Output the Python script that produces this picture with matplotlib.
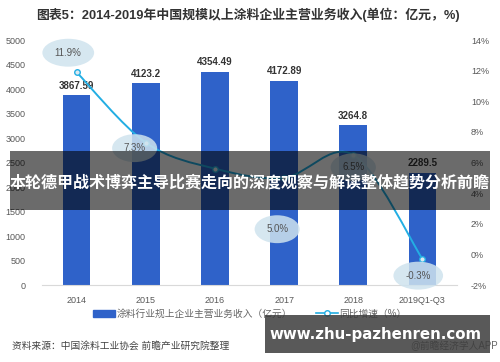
import matplotlib
matplotlib.use('Agg')
import matplotlib.pyplot as plt
import numpy as np
from matplotlib.path import Path
from matplotlib.patches import PathPatch, Rectangle, Patch
from matplotlib.lines import Line2D

plt.rcParams['font.family'] = ['Liberation Sans', 'Noto Sans CJK SC', 'DejaVu Sans']

# data
years = ['2014', '2015', '2016', '2017', '2018', '2019Q1-Q3']
revenue = [3867.59, 4123.2, 4354.49, 4172.89, 3264.8, 2289.5]
growth = [11.9, 7.3, 5.6, 5.0, 6.5, -0.3]
growth_labels = ['11.9%', '7.3%', '', '5.0%', '6.5%', '-0.3%']
rev_ticks = [0, 500, 1000, 1500, 2000, 2500, 3000, 3500, 4000, 4500, 5000]
pct_ticks = [-2, 0, 2, 4, 6, 8, 10, 12, 14]

title = '图表5：2014-2019年中国规模以上涂料企业主营业务收入(单位：亿元，%)'
bar_name = '涂料行业规上企业主营业务收入（亿元）'
line_name = '同比增速（%）'
source = '资料来源：中国涂料工业协会 前瞻产业研究院整理'
brand = '@前瞻经济学人APP'
banner = '本轮德甲战术博弈主导比赛走向的深度观察与解读整体趋势分析前瞻'
site = 'www.zhu-pazhenren.com'

BAR = '#2f62c9'
LINE = '#23aee3'
TICK = '#595959'

fig = plt.figure(figsize=(5, 3.62), dpi=100)
ax = fig.add_axes([0.084, 0.2127, 0.83, 0.6768])
x = np.arange(len(years))

ax.bar(x, revenue, width=0.4, color=BAR, zorder=2)
for xi, v in zip(x, revenue):
    ax.text(xi, v + 90, f'{v:g}', ha='center', va='bottom', fontsize=7,
            fontweight='bold', color='#333333')

ax.set_ylim(0, 5000)
ax.set_xlim(-0.5, len(years) - 0.5)
ax.set_yticks(rev_ticks)
ax.set_xticks(x)
ax.set_xticklabels(years)
ax.tick_params(axis='both', length=0, labelsize=6.5, labelcolor=TICK)
ax.tick_params(axis='x', pad=8)
ax.tick_params(axis='y', pad=12)
for s in ['top', 'right', 'left']:
    ax.spines[s].set_visible(False)
ax.spines['bottom'].set_color('#d9d9d9')

ax2 = ax.twinx()
ax2.set_ylim(-2, 14)
ax2.set_yticks(pct_ticks)
ax2.set_yticklabels([f'{t}%' for t in pct_ticks])
ax2.tick_params(axis='y', length=0, labelsize=6.5, labelcolor=TICK, pad=10)
for s in ax2.spines.values():
    s.set_visible(False)

# smooth line through the growth points (Catmull-Rom as cubic Bezier)
pts = np.column_stack([x, growth]).astype(float)
verts = [tuple(pts[0])]
codes = [Path.MOVETO]
for i in range(len(pts) - 1):
    p0 = pts[max(i - 1, 0)]
    p1 = pts[i]
    p2 = pts[i + 1]
    p3 = pts[min(i + 2, len(pts) - 1)]
    c1 = p1 + (p2 - p0) / 6
    c2 = p2 - (p3 - p1) / 6
    verts += [tuple(c1), tuple(c2), tuple(p2)]
    codes += [Path.CURVE4] * 3
ax2.add_patch(PathPatch(Path(verts, codes), fill=False, edgecolor=LINE,
                        lw=1.4, zorder=3))
ax2.plot(x, growth, 'o', ms=4, mfc='#dce9f0', mec=LINE, mew=1, zorder=4)

offsets = [(-6, 14), (-8, -4), (0, 0), (-5, -37), (0, -9), (-3, -12)]
for xi, g, lab, off in zip(x, growth, growth_labels, offsets):
    if not lab:
        continue
    ax2.annotate(lab, (xi, g), xytext=off, textcoords='offset points',
                 ha='center', va='center', fontsize=7, color='#555555',
                 bbox=dict(boxstyle='ellipse,pad=0.5', fc='#cfe3ee',
                           ec='none', alpha=0.85), zorder=5)

# legend
handles = [Patch(color=BAR),
           Line2D([], [], color=LINE, marker='o', ms=4, mfc='white', mec=LINE, lw=1.2)]
leg = fig.legend(handles, [bar_name, line_name], loc='center',
                 bbox_to_anchor=(0.5, 1 - 314 / 362), ncol=2, frameon=False,
                 fontsize=7, handlelength=2.2, handleheight=0.8,
                 columnspacing=2.5, handletextpad=0.2)
for t in leg.get_texts():
    t.set_color('#666666')

fig.text(0.496, 1 - 15 / 362, title, ha='center', va='center', fontsize=9.3,
         fontweight='bold', color='#333333')
fig.text(12 / 500, 1 - 346 / 362, source, ha='left', va='center',
         fontsize=7, color='#444444')
fig.text(0.995, 1 - 346 / 362, brand, ha='right', va='center',
         fontsize=7, color='#666666')

# overlays
fig.add_artist(Rectangle((10 / 500, 1 - 210 / 362), 480 / 500, 59 / 362,
                         transform=fig.transFigure, color='black',
                         alpha=0.58, lw=0, zorder=10))
fig.text(0.5, 1 - 183 / 362, banner, ha='center', va='center',
         fontsize=11.5, fontweight='bold', color='white', zorder=11)
fig.add_artist(Rectangle((265 / 500, 1 - 353 / 362), 225 / 500, 38 / 362,
                         transform=fig.transFigure, color='#3c3c3c',
                         alpha=0.85, lw=0, zorder=10))
fig.text(376 / 500, 1 - 334 / 362, site, ha='center', va='center',
         fontsize=10.8, fontweight='bold', color='white',
         family='DejaVu Sans', zorder=11)

fig.savefig('out.png', dpi=100)
